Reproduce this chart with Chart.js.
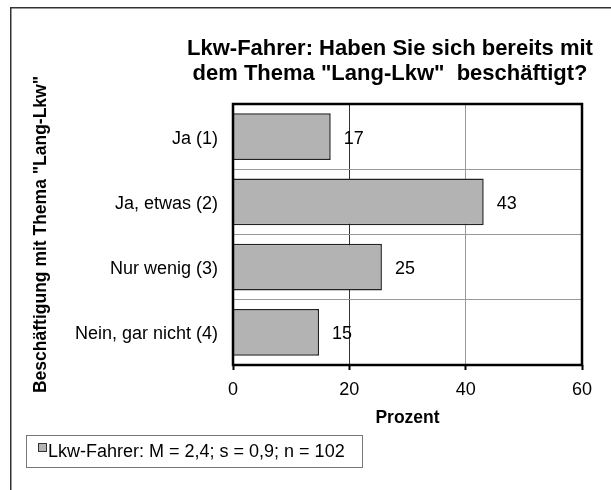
<!DOCTYPE html>
<html>
<head>
<meta charset="utf-8">
<script src="https://cdn.jsdelivr.net/npm/chart.js@4/dist/chart.umd.min.js"></script>
<style>
  html, body { margin: 0; padding: 0; background: #fff; }
  canvas { display: block; }
</style>
</head>
<body>
<canvas id="chart" width="611" height="490"></canvas>
<script>
var categories = ['Ja (1)', 'Ja, etwas (2)', 'Nur wenig (3)', 'Nein, gar nicht (4)'];
var values = [16.8, 43.1, 25.6, 14.8];
var valueLabels = ['17', '43', '25', '15'];
var xTicks = [0, 20, 40, 60];
var seriesName = 'Lkw-Fahrer: M = 2,4; s = 0,9; n = 102';
var titleLines = ['Lkw-Fahrer: Haben Sie sich bereits mit', 'dem Thema "Lang-Lkw"  beschäftigt?'];
var xTitle = 'Prozent';
var yTitle = 'Beschäftigung mit Thema "Lang-Lkw"';

var FONT = '"Liberation Sans", Arial, sans-serif';
Chart.defaults.font.family = FONT;
Chart.defaults.color = '#000';

var barFill = '#b3b3b3';
var barEdge = '#222';

// frame, title, plot border, value labels, legend box
var decoPlugin = {
  id: 'deco',
  beforeDraw: function (chart) {
    var c = chart.ctx;
    c.save();
    c.fillStyle = '#fff';
    c.fillRect(0, 0, chart.width, chart.height);
    c.strokeStyle = '#333';
    c.lineWidth = 1.5;
    c.strokeRect(10.75, 7.75, 700, 600);
    c.restore();
  },
  afterDatasetsDraw: function (chart) {
    var c = chart.ctx;
    var a = chart.chartArea;
    var meta = chart.getDatasetMeta(0);
    c.save();
    c.strokeStyle = '#000';
    c.lineWidth = 2.5;
    c.strokeRect(a.left, a.top, a.right - a.left, a.bottom - a.top);

    c.font = '18px ' + FONT;
    c.fillStyle = '#000';
    c.textAlign = 'left';
    c.textBaseline = 'middle';
    meta.data.forEach(function (bar, i) {
      c.fillText(valueLabels[i], bar.x + 13, bar.y + 2);
    });
    c.restore();
  },
  afterDraw: function (chart) {
    var c = chart.ctx;
    c.save();
    c.font = 'bold 22px ' + FONT;
    c.fillStyle = '#000';
    c.textAlign = 'center';
    c.textBaseline = 'alphabetic';
    c.fillText(titleLines[0], 390, 55);
    c.fillText(titleLines[1], 390, 80);

    // legend
    c.strokeStyle = '#777';
    c.lineWidth = 1;
    c.strokeRect(26.5, 435.5, 336, 32);
    c.fillStyle = barFill;
    c.fillRect(38, 443, 9, 9);
    c.strokeStyle = '#333';
    c.strokeRect(38.5, 443.5, 8, 8);
    c.font = '18px ' + FONT;
    c.fillStyle = '#000';
    c.textAlign = 'left';
    c.textBaseline = 'middle';
    c.fillText(seriesName, 48, 452);
    c.restore();
  }
};

new Chart(document.getElementById('chart'), {
  type: 'bar',
  data: {
    labels: categories,
    datasets: [{
      label: seriesName,
      data: values,
      backgroundColor: barFill,
      borderColor: barEdge,
      borderWidth: 1.5,
      barPercentage: 0.72,
      categoryPercentage: 1
    }]
  },
  options: {
    indexAxis: 'y',
    responsive: false,
    animation: false,
    layout: { padding: { left: 0, right: 29, top: 104, bottom: 60 } },
    plugins: {
      legend: { display: false },
      tooltip: { enabled: false }
    },
    scales: {
      x: {
        min: 0,
        max: 60,
        afterBuildTicks: function (s) {
          s.ticks = xTicks.map(function (v) { return { value: v }; });
        },
        ticks: { font: { size: 18 }, color: '#000', padding: 9 },
        grid: {
          color: function (ctx) { return ctx.tick && ctx.tick.value === 20 ? '#333' : '#999'; },
          tickColor: '#000',
          tickWidth: 2,
          tickLength: 5
        },
        border: { display: false },
        title: {
          display: true,
          text: xTitle,
          font: { size: 17.5, weight: 'bold' },
          color: '#000',
          padding: { top: 0, bottom: 1 }
        },
        afterFit: function (s) { s.height = 65; }
      },
      y: {
        ticks: { font: { size: 18 }, color: '#000', padding: 15, labelOffset: 2 },
        grid: { color: '#999', drawTicks: false, offset: true },
        border: { display: false },
        title: {
          display: true,
          text: yTitle,
          font: { size: 17.5, weight: 'bold' },
          color: '#000',
          padding: { top: 31, bottom: 0 }
        },
        afterFit: function (s) { s.width = 233; }
      }
    }
  },
  plugins: [decoPlugin]
});
</script>
</body>
</html>
